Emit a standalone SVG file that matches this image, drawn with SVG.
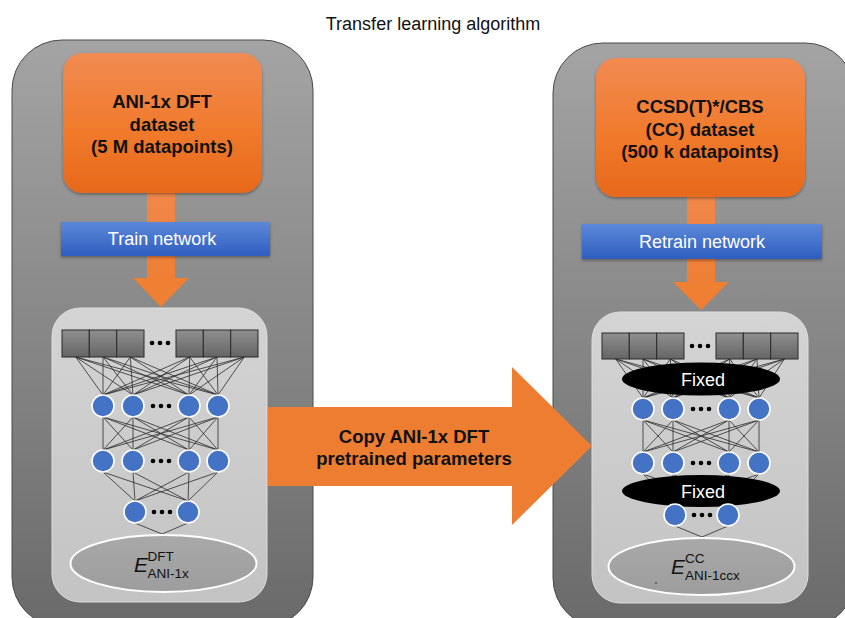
<svg xmlns="http://www.w3.org/2000/svg" width="845" height="618" viewBox="0 0 845 618">
  <defs>
    <linearGradient id="gOuter" x1="0" y1="0" x2="0" y2="1">
      <stop offset="0" stop-color="#a4a4a4"/>
      <stop offset="1" stop-color="#6a6a6a"/>
    </linearGradient>
    <linearGradient id="gInner" x1="0" y1="0" x2="0" y2="1">
      <stop offset="0" stop-color="#d4d4d4"/>
      <stop offset="1" stop-color="#c3c3c3"/>
    </linearGradient>
    <linearGradient id="gOrange" x1="0" y1="0" x2="0" y2="1">
      <stop offset="0" stop-color="#f18b52"/>
      <stop offset="0.55" stop-color="#f07a2c"/>
      <stop offset="1" stop-color="#e7691b"/>
    </linearGradient>
    <linearGradient id="gStem" x1="0" y1="0" x2="0" y2="1">
      <stop offset="0" stop-color="#f0884a"/>
      <stop offset="1" stop-color="#ee7f34"/>
    </linearGradient>
    <linearGradient id="gBlue" x1="0" y1="0" x2="0" y2="1">
      <stop offset="0" stop-color="#5c88d9"/>
      <stop offset="1" stop-color="#2f5ebf"/>
    </linearGradient>
    <linearGradient id="gBox" x1="0" y1="0" x2="0" y2="1">
      <stop offset="0" stop-color="#8f8f8f"/>
      <stop offset="1" stop-color="#656565"/>
    </linearGradient>
    <linearGradient id="gOut" x1="0" y1="0" x2="0" y2="1">
      <stop offset="0" stop-color="#a9a9a9"/>
      <stop offset="1" stop-color="#9d9d9d"/>
    </linearGradient>
    <filter id="shadow" x="-10%" y="-10%" width="120%" height="130%">
      <feDropShadow dx="0" dy="1.5" stdDeviation="1.5" flood-color="#000" flood-opacity="0.35"/>
    </filter>
  </defs>
  <style>
    .outer { fill: url(#gOuter); stroke: #4a4a4a; stroke-width: 1; }
    .inner { fill: url(#gInner); stroke: #dedede; stroke-width: 1; }
    .data { fill: url(#gOrange); filter: url(#shadow); }
    .bar { fill: url(#gBlue); filter: url(#shadow); }
    .stem { fill: url(#gStem); }
    .head { fill: #ee7f33; }
    .copy { fill: #ed7d31; }
    .edge { fill: none; stroke: #2b2b2b; stroke-width: 0.8; }
    .inp { fill: url(#gBox); stroke: #2a2a2a; stroke-width: 1; }
    .neuron { fill: #4472c4; stroke: #ffffff; stroke-width: 1.6; }
    .dot { fill: #000000; }
    .fixed { fill: #000000; }
    .out { fill: url(#gOut); stroke: #ffffff; stroke-width: 2; }
    .t { font-family: "Liberation Sans", Arial, sans-serif; }
    .bold { font-weight: bold; font-size: 18.5px; fill: #111111; text-anchor: middle; }
    .bartxt { font-size: 18px; fill: #ffffff; text-anchor: middle; }
    .fixtxt { font-size: 18px; fill: #ffffff; text-anchor: middle; }
    .e { font-size: 21px; font-style: italic; fill: #111111; }
    .sm { font-size: 13.5px; fill: #111111; }
  </style>

  <!-- heading -->
  <g id="title">
    <text class="t" x="433" y="30" font-size="18" fill="#111111" text-anchor="middle">Transfer learning algorithm</text>
  </g>

  <!-- background panels -->
  <g id="panel-left">
    <rect class="outer" x="12" y="40" width="301" height="587" rx="50"/>
    <rect class="inner" x="52" y="308" width="215" height="294" rx="28"/>
  </g>
  <g id="panel-right">
    <rect class="outer" x="553" y="43" width="302" height="585" rx="50"/>
    <rect class="inner" x="592" y="312" width="216" height="291" rx="28"/>
  </g>

  <!-- flow arrows and network edges -->
  <g id="connectors">
    <rect class="stem" x="147" y="192" width="28" height="87"/>
    <polygon class="head" points="133,278 189,278 161,307"/>
    <rect class="stem" x="687" y="196" width="28" height="87"/>
    <polygon class="head" points="673,282 729,282 701,310"/>

    <!-- left network: inputs to layer 1 -->
    <path class="edge" d="M75.7 357L103 395M75.7 357L133 395M75.7 357L189 395M75.7 357L218 395
      M103 357L103 395M103 357L133 395M103 357L189 395M103 357L218 395
      M130.3 357L103 395M130.3 357L133 395M130.3 357L189 395M130.3 357L218 395
      M189.7 357L103 395M189.7 357L133 395M189.7 357L189 395M189.7 357L218 395
      M217 357L103 395M217 357L133 395M217 357L189 395M217 357L218 395
      M244.3 357L103 395M244.3 357L133 395M244.3 357L189 395M244.3 357L218 395"/>
    <!-- left network: layer 1 to layer 2 -->
    <path class="edge" d="M103 417L103 450M103 417L133 450M103 417L189 450M103 417L218 450
      M133 417L103 450M133 417L133 450M133 417L189 450M133 417L218 450
      M189 417L103 450M189 417L133 450M189 417L189 450M189 417L218 450
      M218 417L103 450M218 417L133 450M218 417L189 450M218 417L218 450"/>
    <!-- left network: layer 2 to layer 3 -->
    <path class="edge" d="M103 472L135 501M103 472L188 501M133 472L135 501M133 472L188 501
      M189 472L135 501M189 472L188 501M218 472L135 501M218 472L188 501"/>
    <!-- left network: layer 3 to energy -->
    <path class="edge" d="M135 523L162 534L188 523"/>

    <!-- right network: inputs to layer 1 -->
    <path class="edge" d="M615.7 359L643 398M615.7 359L673 398M615.7 359L729 398M615.7 359L759 398
      M643 359L643 398M643 359L673 398M643 359L729 398M643 359L759 398
      M670.3 359L643 398M670.3 359L673 398M670.3 359L729 398M670.3 359L759 398
      M729.7 359L643 398M729.7 359L673 398M729.7 359L729 398M729.7 359L759 398
      M757 359L643 398M757 359L673 398M757 359L729 398M757 359L759 398
      M784.3 359L643 398M784.3 359L673 398M784.3 359L729 398M784.3 359L759 398"/>
    <!-- right network: layer 1 to layer 2 -->
    <path class="edge" d="M643 420L643 452M643 420L673 452M643 420L729 452M643 420L759 452
      M673 420L643 452M673 420L673 452M673 420L729 452M673 420L759 452
      M729 420L643 452M729 420L673 452M729 420L729 452M729 420L759 452
      M759 420L643 452M759 420L673 452M759 420L729 452M759 420L759 452"/>
    <!-- right network: layer 2 to layer 3 -->
    <path class="edge" d="M643 474L675 504M643 474L728 504M673 474L675 504M673 474L728 504
      M729 474L675 504M729 474L728 504M759 474L675 504M759 474L728 504"/>
    <!-- right network: layer 3 to energy -->
    <path class="edge" d="M675 526L702 537L728 526"/>

    <!-- parameter transfer arrow -->
    <polygon class="copy" points="268,407 512,407 512,367 592,446 512,525 512,486 268,486"/>
    <text class="t bold" x="414" y="443">Copy ANI-1x DFT</text>
    <text class="t bold" x="414" y="465">pretrained parameters</text>
  </g>

  <!-- datasets -->
  <g id="dataset-dft">
    <rect class="data" x="63" y="53" width="199" height="140" rx="20"/>
    <text class="t bold" x="162" y="108">ANI-1x DFT</text>
    <text class="t bold" x="162" y="131">dataset</text>
    <text class="t bold" x="162" y="153">(5 M datapoints)</text>
  </g>
  <g id="dataset-cc">
    <rect class="data" x="596" y="58" width="209" height="139" rx="20"/>
    <text class="t bold" x="700" y="113">CCSD(T)*/CBS</text>
    <text class="t bold" x="700" y="136">(CC) dataset</text>
    <text class="t bold" x="700" y="158">(500 k datapoints)</text>
  </g>

  <!-- training steps -->
  <g id="train">
    <rect class="bar" x="61" y="222" width="209" height="34"/>
    <text class="t bartxt" x="162" y="245">Train network</text>
  </g>
  <g id="retrain">
    <rect class="bar" x="582" y="224" width="240" height="35"/>
    <text class="t bartxt" x="702" y="248">Retrain network</text>
  </g>

  <!-- pretrained network -->
  <g id="network-dft">
    <rect class="inp" x="62" y="330" width="27.3" height="27"/>
    <rect class="inp" x="89.3" y="330" width="27.4" height="27"/>
    <rect class="inp" x="116.7" y="330" width="27.3" height="27"/>
    <rect class="inp" x="176" y="330" width="27.3" height="27"/>
    <rect class="inp" x="203.3" y="330" width="27.4" height="27"/>
    <rect class="inp" x="230.7" y="330" width="27.3" height="27"/>
    <circle class="dot" cx="152" cy="343" r="2.3"/>
    <circle class="dot" cx="160" cy="343" r="2.3"/>
    <circle class="dot" cx="168" cy="343" r="2.3"/>

    <circle class="neuron" cx="103" cy="406" r="11"/>
    <circle class="neuron" cx="133" cy="406" r="11"/>
    <circle class="neuron" cx="189" cy="406" r="11"/>
    <circle class="neuron" cx="218" cy="406" r="11"/>
    <circle class="dot" cx="153" cy="406" r="2.3"/>
    <circle class="dot" cx="161" cy="406" r="2.3"/>
    <circle class="dot" cx="169" cy="406" r="2.3"/>

    <circle class="neuron" cx="103" cy="461" r="11"/>
    <circle class="neuron" cx="133" cy="461" r="11"/>
    <circle class="neuron" cx="189" cy="461" r="11"/>
    <circle class="neuron" cx="218" cy="461" r="11"/>
    <circle class="dot" cx="153" cy="461" r="2.3"/>
    <circle class="dot" cx="161" cy="461" r="2.3"/>
    <circle class="dot" cx="169" cy="461" r="2.3"/>

    <circle class="neuron" cx="135" cy="512" r="11"/>
    <circle class="neuron" cx="188" cy="512" r="11"/>
    <circle class="dot" cx="154" cy="512" r="2.3"/>
    <circle class="dot" cx="162" cy="512" r="2.3"/>
    <circle class="dot" cx="170" cy="512" r="2.3"/>
  </g>
  <g id="energy-dft">
    <ellipse class="out" cx="163.5" cy="563.5" rx="93" ry="28.5"/>
    <text class="t e" x="134" y="572">E</text>
    <text class="t sm" x="147.5" y="560.5">DFT</text>
    <text class="t sm" x="147.5" y="578">ANI-1x</text>
  </g>

  <!-- retrained network -->
  <g id="network-cc">
    <rect class="inp" x="602" y="333" width="27.3" height="26"/>
    <rect class="inp" x="629.3" y="333" width="27.4" height="26"/>
    <rect class="inp" x="656.7" y="333" width="27.3" height="26"/>
    <rect class="inp" x="716" y="333" width="27.3" height="26"/>
    <rect class="inp" x="743.3" y="333" width="27.4" height="26"/>
    <rect class="inp" x="770.7" y="333" width="27.3" height="26"/>
    <circle class="dot" cx="692" cy="346" r="2.3"/>
    <circle class="dot" cx="700" cy="346" r="2.3"/>
    <circle class="dot" cx="708" cy="346" r="2.3"/>

    <ellipse class="fixed" cx="701" cy="379" rx="79" ry="16.5"/>
    <text class="t fixtxt" x="703" y="386">Fixed</text>

    <circle class="neuron" cx="643" cy="409" r="11"/>
    <circle class="neuron" cx="673" cy="409" r="11"/>
    <circle class="neuron" cx="729" cy="409" r="11"/>
    <circle class="neuron" cx="759" cy="409" r="11"/>
    <circle class="dot" cx="693" cy="409" r="2.3"/>
    <circle class="dot" cx="701" cy="409" r="2.3"/>
    <circle class="dot" cx="709" cy="409" r="2.3"/>

    <circle class="neuron" cx="643" cy="463" r="11"/>
    <circle class="neuron" cx="673" cy="463" r="11"/>
    <circle class="neuron" cx="729" cy="463" r="11"/>
    <circle class="neuron" cx="759" cy="463" r="11"/>
    <circle class="dot" cx="693" cy="463" r="2.3"/>
    <circle class="dot" cx="701" cy="463" r="2.3"/>
    <circle class="dot" cx="709" cy="463" r="2.3"/>

    <ellipse class="fixed" cx="701" cy="491" rx="79" ry="16"/>
    <text class="t fixtxt" x="703" y="498">Fixed</text>

    <circle class="neuron" cx="675" cy="515" r="11"/>
    <circle class="neuron" cx="728" cy="515" r="11"/>
    <circle class="dot" cx="694" cy="515" r="2.3"/>
    <circle class="dot" cx="702" cy="515" r="2.3"/>
    <circle class="dot" cx="710" cy="515" r="2.3"/>
  </g>
  <g id="energy-cc">
    <ellipse class="out" cx="701.5" cy="566.5" rx="93" ry="28.5"/>
    <text class="t e" x="671" y="574">E</text>
    <text class="t sm" x="685" y="562.5">CC</text>
    <text class="t sm" x="685" y="580">ANI-1ccx</text>
    <circle cx="656" cy="583" r="0.8" fill="#222222"/>
  </g>
</svg>
